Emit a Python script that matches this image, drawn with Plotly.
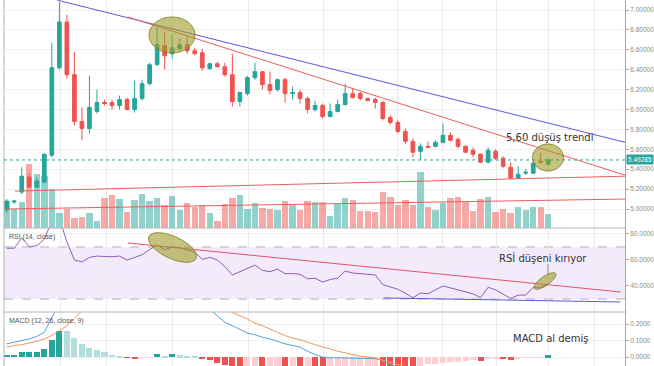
import math
import plotly.graph_objects as go

# ---------------- data ----------------
opens = [4.99, 5.07, 5.17, 5.32, 5.22, 5.27, 5.54, 6.42, 6.88, 6.35,
         5.88, 5.81, 5.98, 6.07, 6.07, 6.04, 6.10, 6.00, 6.11, 6.26,
         6.45, 6.64, 6.56, 6.61, 6.65, 6.59, 6.57, 6.41, 6.46, 6.43,
         6.35, 6.08, 6.16, 6.32, 6.38, 6.25, 6.20, 6.30, 6.16, 6.17,
         6.11, 6.00, 6.04, 5.93, 5.98, 6.05, 6.16, 6.16, 6.11, 6.10,
         6.07, 5.92, 5.87, 5.78, 5.68, 5.58, 5.63, 5.63, 5.67, 5.74,
         5.70, 5.63, 5.59, 5.55, 5.47, 5.58, 5.51, 5.42, 5.31, 5.36,
         5.36, 5.48, 5.45]
highs = [5.10, 5.09, 5.42, 5.36, 5.32, 5.56, 6.67, 7.08, 6.95, 6.58,
         6.02, 6.34, 6.20, 6.10, 6.10, 6.14, 6.12, 6.29, 6.30, 6.47,
         6.83, 6.78, 6.75, 6.71, 6.74, 6.62, 6.61, 6.47, 6.48, 6.47,
         6.56, 6.18, 6.34, 6.47, 6.38, 6.38, 6.31, 6.32, 6.23, 6.20,
         6.13, 6.09, 6.06, 6.06, 6.10, 6.26, 6.21, 6.18, 6.12, 6.12,
         6.09, 5.94, 5.89, 5.81, 5.71, 5.66, 5.68, 5.69, 5.86, 5.77,
         5.72, 5.64, 5.62, 5.56, 5.62, 5.60, 5.53, 5.47, 5.43, 5.40,
         5.48, 5.57, 5.51]
lows = [4.96, 5.05, 5.15, 5.21, 5.21, 5.26, 5.52, 6.40, 6.31, 5.84,
        5.69, 5.76, 5.96, 6.04, 6.00, 6.00, 5.99, 5.97, 6.09, 6.24,
        6.44, 6.40, 6.51, 6.59, 6.56, 6.55, 6.39, 6.40, 6.42, 6.33,
        6.03, 6.03, 6.14, 6.30, 6.20, 6.15, 6.18, 6.07, 6.10, 6.06,
        5.96, 5.98, 5.91, 5.92, 5.97, 6.04, 6.11, 6.09, 6.08, 6.01,
        5.89, 5.85, 5.76, 5.65, 5.52, 5.50, 5.61, 5.62, 5.66, 5.68,
        5.61, 5.56, 5.52, 5.46, 5.46, 5.49, 5.41, 5.30, 5.30, 5.34,
        5.35, 5.46, 5.44]
closes = [5.08, 5.08, 5.33, 5.22, 5.28, 5.55, 6.42, 6.88, 6.35, 5.88,
          5.81, 6.02, 6.07, 6.06, 6.04, 6.10, 6.00, 6.11, 6.26, 6.45,
          6.65, 6.54, 6.62, 6.65, 6.59, 6.56, 6.42, 6.46, 6.43, 6.35,
          6.08, 6.17, 6.32, 6.38, 6.25, 6.19, 6.30, 6.16, 6.17, 6.11,
          6.00, 6.04, 5.93, 5.98, 6.05, 6.16, 6.12, 6.11, 6.09, 6.07,
          5.91, 5.87, 5.78, 5.68, 5.57, 5.63, 5.62, 5.67, 5.74, 5.69,
          5.63, 5.57, 5.55, 5.47, 5.59, 5.51, 5.43, 5.31, 5.35, 5.37,
          5.46, 5.47, 5.49285]
volumes = [27, 19, 26, 64, 54, 52, 39, 15, 19, 10,
           11, 15, 7, 30, 33, 29, 16, 28, 34, 27,
           30, 23, 32, 18, 25, 21, 23, 15, 7, 24,
           30, 33, 19, 25, 20, 19, 18, 27, 23, 18,
           27, 26, 26, 12, 24, 30, 28, 17, 17, 16,
           36, 31, 23, 28, 23, 56, 21, 18, 25, 30,
           31, 26, 17, 29, 31, 16, 19, 15, 21, 18,
           21, 21, 14]
rsi = [69, 69, 77, 70, 71, 76, 90, 92, 74, 60,
       58.5, 62, 63, 62.5, 62.5, 63, 60, 62, 64, 68,
       71.5, 68, 70, 69.5, 68, 66, 60.5, 62, 60, 55,
       48.5, 51, 53.5, 56, 52, 51, 53, 49.5, 49.5, 49,
       45.5, 46, 43, 45, 46, 51.5, 50, 49.5, 49, 48.5,
       41, 39.5, 37.5, 34.5, 31, 34.5, 34, 37, 40, 38.5,
       37, 35.5, 34, 31, 39, 37, 34, 30.5, 33, 33,
       39, 39, 41.5]
macd_line = [0.08, 0.09, 0.10, 0.11, 0.125, 0.15, 0.24, 0.33, 0.40, 0.42,
             0.41, 0.40, 0.38, 0.36, 0.34, 0.33, 0.32, 0.32, 0.33, 0.35,
             0.38, 0.39, 0.40, 0.40, 0.39, 0.37, 0.34, 0.29, 0.25, 0.21,
             0.19, 0.165, 0.145, 0.135, 0.12, 0.11, 0.095, 0.08, 0.07, 0.06,
             0.035, 0.015, 0.0, -0.006, -0.005, -0.006, -0.007, -0.006, -0.008, -0.01,
             -0.02, -0.045, -0.065, -0.08, -0.10, -0.11, -0.12, -0.125, -0.128, -0.132,
             -0.138, -0.145, -0.152, -0.16, -0.158, -0.16, -0.165, -0.172, -0.172, -0.17,
             -0.165, -0.16, -0.152]
signal_line = [0.06, 0.07, 0.075, 0.085, 0.095, 0.11, 0.13, 0.16, 0.19, 0.235,
               0.28, 0.31, 0.33, 0.34, 0.35, 0.35, 0.35, 0.35, 0.35, 0.35,
               0.355, 0.36, 0.37, 0.375, 0.375, 0.37, 0.36, 0.34, 0.32, 0.29,
               0.27, 0.25, 0.23, 0.205, 0.19, 0.17, 0.15, 0.13, 0.115, 0.105,
               0.09, 0.075, 0.06, 0.05, 0.035, 0.025, 0.015, 0.005, 0.0, -0.005,
               -0.02, -0.035, -0.05, -0.065, -0.08, -0.09, -0.10, -0.11, -0.118, -0.125,
               -0.132, -0.138, -0.145, -0.15, -0.155, -0.158, -0.16, -0.163, -0.165, -0.166,
               -0.165, -0.163, -0.16]
macd_hist = [0.015, 0.015, 0.03, 0.03, 0.033, 0.05, 0.105, 0.16, 0.155, 0.117,
             0.077, 0.055, 0.045, 0.03, 0.015, 0.006, -0.005, -0.012, -0.006, -0.001,
             0.016, 0.002, 0.016, 0.01, 0.005, 0.001, -0.01, -0.02, -0.035, -0.05,
             -0.07, -0.085, -0.08, -0.075, -0.08, -0.078, -0.075, -0.08, -0.077, -0.08,
             -0.078, -0.082, -0.085, -0.08, -0.075, -0.07, -0.065, -0.06, -0.058, -0.056,
             -0.065, -0.075, -0.085, -0.09, -0.10, -0.06, -0.045, -0.04, -0.036, -0.033,
             -0.03, -0.025, -0.018, -0.022, -0.012, -0.01, -0.015, -0.02, -0.008, -0.005,
             -0.003, -0.001, 0.01]

price_ticks = [5.0, 5.2, 5.4, 5.6, 5.8, 6.0, 6.2, 6.4, 6.6, 6.8, 7.0]
rsi_ticks = [40, 60, 80]
macd_ticks = [0.0, 0.1, 0.2]
grid_x = [7.1, 13.3, 22.1, 32.1, 42.1, 52.0, 58.0, 65.1, 72.0, 78.1]

# trend lines drawn on the chart: (x0, y0, x1, y1) in bar index / value units
price_trend_blue = (6.7, 7.10, 82.2, 5.67)
price_trend_red = (16.1, 6.93, 82.2, 5.34)
price_support_red = (1.1, 5.18, 82.2, 5.33)
price_lower_red = (-0.2, 5.00, 82.2, 5.10)
rsi_trend_red = (16.1, 73.1, 81.6, 35.4)
rsi_support_blue = (50.1, 30.8, 81.6, 27.7)

idx = list(range(len(closes)))
last_close = closes[-1]

TEAL = '#26a69a'
RED = '#ef5350'

vol_colors = ['rgba(38,166,154,0.5)' if c >= o else 'rgba(239,83,80,0.5)'
              for o, c in zip(opens, closes)]
hist_colors = []
for i, h in enumerate(macd_hist):
    prev = macd_hist[i - 1] if i > 0 else h
    if h >= 0:
        hist_colors.append(TEAL if h >= prev else '#b2dfdb')
    else:
        hist_colors.append(RED if h <= prev else '#ffcdd2')

# ---------------- geometry helpers ----------------
W, H = 654, 366
ML, MR = 4, 29
PW = W - ML - MR


def px_to_paper(x, y):
    return (x - ML) / PW, 1 - y / H


def ellipse_path(cx, cy, a, b, ang, n=48):
    th = math.radians(ang)
    pts = []
    for k in range(n):
        t = 2 * math.pi * k / n
        x = cx + a * math.cos(t) * math.cos(th) - b * math.sin(t) * math.sin(th)
        y = cy + a * math.cos(t) * math.sin(th) + b * math.sin(t) * math.cos(th)
        px, py = px_to_paper(x, y)
        pts.append(f"{px:.5f},{py:.5f}")
    return "M" + " L".join(pts) + " Z"


D_PRICE = [1 - 228 / H, 1]
D_RSI = [1 - 312 / H, 1 - 228 / H]
D_MACD = [0, 1 - 312 / H]

fig = go.Figure()
fig.add_trace(go.Bar(x=idx, y=volumes, marker=dict(color=vol_colors, line=dict(width=0)),
                     width=0.85, xaxis='x', yaxis='y', hoverinfo='skip'))
fig.add_trace(go.Candlestick(
    x=idx, open=opens, high=highs, low=lows, close=closes, xaxis='x', yaxis='y2',
    increasing=dict(line=dict(color=TEAL, width=1), fillcolor=TEAL),
    decreasing=dict(line=dict(color=RED, width=1), fillcolor=RED),
    whiskerwidth=0))
fig.add_trace(go.Scatter(x=idx, y=rsi, mode='lines', xaxis='x2', yaxis='y3',
                         line=dict(color='#8e5fb5', width=1)))
fig.add_trace(go.Bar(x=idx, y=macd_hist, marker=dict(color=hist_colors, line=dict(width=0)),
                     width=0.8, xaxis='x3', yaxis='y4'))
fig.add_trace(go.Scatter(x=idx, y=macd_line, mode='lines', xaxis='x3', yaxis='y4',
                         line=dict(color='#4fa3e0', width=1)))
fig.add_trace(go.Scatter(x=idx, y=signal_line, mode='lines', xaxis='x3', yaxis='y4',
                         line=dict(color='#f3945a', width=1)))

tickfont = dict(family='Liberation Sans, Arial', size=6.5, color='#8a8a8a')
xcommon = dict(range=[-0.36, 82.2], tickvals=grid_x, showticklabels=False, showgrid=True,
               gridcolor='#ededed', gridwidth=1, zeroline=False, showline=False, ticks='')
ycommon = dict(side='right', showgrid=True, gridcolor='#f0f0f0', zeroline=False,
               showline=True, linecolor='#a8a8a8', linewidth=1, ticks='outside',
               ticklen=3, tickcolor='#a8a8a8', tickfont=tickfont, fixedrange=True)

shapes = []
# RSI band
shapes.append(dict(type='rect', xref='paper', yref='y3', x0=0, x1=1, y0=30, y1=70,
                   fillcolor='rgba(150,60,220,0.11)', line=dict(width=0), layer='below'))
for lv in (70, 30):
    shapes.append(dict(type='line', xref='paper', yref='y3', x0=0, x1=1, y0=lv, y1=lv,
                       line=dict(color='#b0b0b0', width=1, dash='dash'), layer='below'))
# panel separators and left border
for yy in (228, 312):
    shapes.append(dict(type='line', xref='paper', yref='paper', x0=0, x1=1,
                       y0=1 - yy / H, y1=1 - yy / H, line=dict(color='#b4b4b4', width=1)))
shapes.append(dict(type='line', xref='paper', yref='paper', x0=0, x1=0, y0=0, y1=1,
                   line=dict(color='#b4b4b4', width=1)))
# last price dotted line
shapes.append(dict(type='line', xref='paper', yref='y2', x0=0, x1=1, y0=last_close,
                   y1=last_close, line=dict(color=TEAL, width=1, dash='dot')))


def seg(t, xref, yref, color):
    return dict(type='line', xref=xref, yref=yref, x0=t[0], y0=t[1], x1=t[2], y1=t[3],
                line=dict(color=color, width=1))


shapes.append(seg(price_trend_blue, 'x', 'y2', '#5a5ad8'))
shapes.append(seg(price_trend_red, 'x', 'y2', '#e8605a'))
shapes.append(seg(price_support_red, 'x', 'y2', '#e8605a'))
shapes.append(seg(price_lower_red, 'x', 'y2', '#e8605a'))
shapes.append(seg(rsi_trend_red, 'x2', 'y3', '#e8506e'))
shapes.append(seg(rsi_support_blue, 'x2', 'y3', '#5a5ad8'))

EFILL = 'rgba(160,155,40,0.6)'
ELINE = 'rgba(120,118,30,0.75)'
for (cx, cy, a, b, ang) in [(172, 35, 23, 18, 0), (548, 157.5, 15.5, 13.5, 0),
                            (172.5, 247.5, 26, 11, 25), (545, 281, 13, 4.5, -35)]:
    shapes.append(dict(type='path', xref='paper', yref='paper',
                       path=ellipse_path(cx, cy, a, b, ang),
                       fillcolor=EFILL, line=dict(color=ELINE, width=1)))
# connector for RSI note
p0 = px_to_paper(548, 264)
p1 = px_to_paper(548, 275)
shapes.append(dict(type='line', xref='paper', yref='paper', x0=p0[0], y0=p0[1],
                   x1=p1[0], y1=p1[1], line=dict(color='#888888', width=1)))

notefont = dict(family='DejaVu Sans', size=10, color='#333333')
ann = []
for text, (cx, cy) in [('5,60 düşüş trendi', (550, 137.5)),
                       ('RSİ düşeni kırıyor', (543, 258)),
                       ('MACD al demiş', (550, 338))]:
    px, py = px_to_paper(cx, cy)
    ann.append(dict(text=text, x=px, y=py, xref='paper', yref='paper', showarrow=False,
                    xanchor='center', yanchor='middle', font=notefont))
smallfont = dict(family='Liberation Sans, Arial', size=7, color='#555555')
for text, (lx, ly) in [('RSI (14, close)', (7, 236.5)),
                       ('MACD (12, 26, close, 9)', (7, 321))]:
    px, py = px_to_paper(lx, ly)
    ann.append(dict(text=text, x=px, y=py, xref='paper', yref='paper', showarrow=False,
                    xanchor='left', yanchor='middle', font=smallfont))
ann.append(dict(text=f"{last_close:.5f}", x=1, y=last_close, xref='paper', yref='y2',
                showarrow=False, xanchor='left', yanchor='middle', xshift=1,
                bgcolor=TEAL, borderpad=1,
                font=dict(family='Liberation Sans, Arial', size=6.5, color='white')))

fig.update_layout(
    width=W, height=H,
    margin=dict(l=ML, r=MR, t=0, b=0, pad=0),
    paper_bgcolor='white', plot_bgcolor='white',
    showlegend=False,
    xaxis=dict(anchor='y', domain=[0, 1], rangeslider=dict(visible=False), **xcommon),
    xaxis2=dict(anchor='y3', domain=[0, 1], matches='x', **xcommon),
    xaxis3=dict(anchor='y4', domain=[0, 1], matches='x', **xcommon),
    yaxis=dict(domain=D_PRICE, range=[0, 228], visible=False, fixedrange=True),
    yaxis2=dict(overlaying='y', anchor='x', range=[4.809, 7.1005], tickvals=price_ticks,
                tickformat='.5f', **ycommon),
    yaxis3=dict(domain=D_RSI, anchor='x2', range=[20, 84.6], tickvals=rsi_ticks,
                tickformat='.4f', **ycommon),
    yaxis4=dict(domain=D_MACD, anchor='x3', range=[-0.0545, 0.273], tickvals=macd_ticks,
                tickformat='.4f', **ycommon),
    shapes=shapes,
    annotations=ann,
    bargap=0,
)

fig.write_html("out.html",
               config={'displayModeBar': False},
               post_script="document.body.style.margin='0';"
                           "document.body.style.overflow='hidden';")
